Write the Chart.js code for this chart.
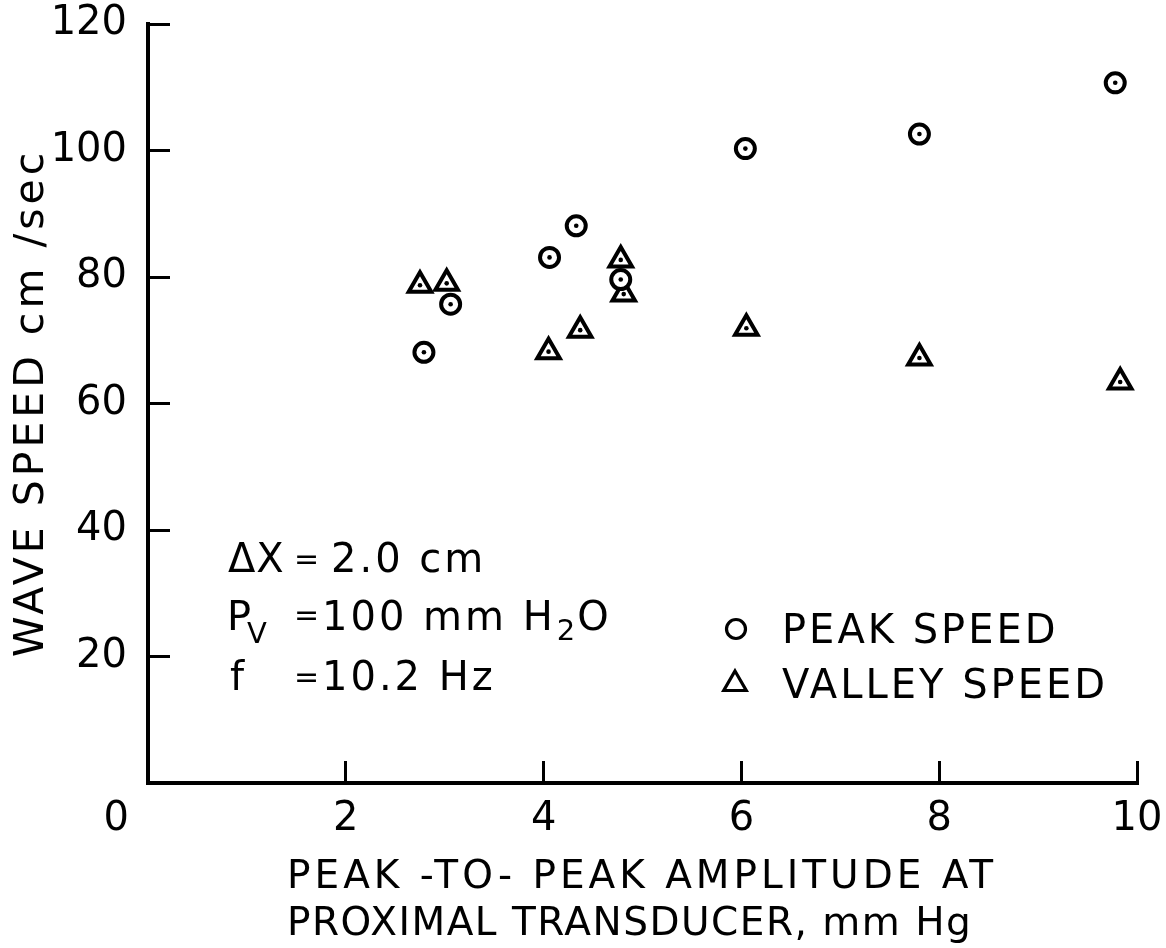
<!DOCTYPE html>
<html>
<head>
<meta charset="utf-8">
<script src="https://cdn.jsdelivr.net/npm/chart.js@4.4.0/dist/chart.umd.min.js"></script>
<style>
  html, body { margin: 0; padding: 0; background: #fff; }
  #wrap { width: 1166px; height: 948px; }
</style>
</head>
<body>
<div id="wrap"><canvas id="chart" width="1166" height="948"></canvas></div>
<script>
// Peak-to-peak amplitude at the proximal transducer (mm Hg) and measured wave speeds (cm/sec)
const peakAmplitude   = [2.79, 3.06, 4.06, 4.33, 4.78, 6.04, 7.80, 9.78];
const peakSpeed       = [68.1, 75.7, 83.1, 88.1, 79.6, 100.3, 102.6, 110.7];
const valleyAmplitude = [2.75, 3.02, 4.05, 4.37, 4.78, 4.81, 6.05, 7.80, 9.83];
const valleySpeed     = [78.7, 79.0, 68.2, 71.6, 82.7, 77.3, 71.9, 67.2, 63.4];

const seriesNames = ['PEAK SPEED', 'VALLEY SPEED'];
const xTickValues = [0, 2, 4, 6, 8, 10];
const yTickValues = [20, 40, 60, 80, 100, 120];
const xTitleLines = ['PEAK -TO- PEAK AMPLITUDE AT', 'PROXIMAL TRANSDUCER, mm Hg'];
const yTitleText  = 'WAVE SPEED cm /sec';

const FONT = '"DejaVu Sans"';
const INK = '#000';

function toPoints(xs, ys) {
  return xs.map((x, i) => ({ x: x, y: ys[i] }));
}

function drawText(ctx, str, x, y, size, spacing) {
  ctx.font = size + 'px ' + FONT;
  ctx.letterSpacing = spacing + 'px';
  ctx.fillText(str, x, y);
  return x + ctx.measureText(str).width;
}

function drawMarker(ctx, style, x, y, r, lw) {
  ctx.beginPath();
  if (style === 'triangle') {
    let a = 0;
    ctx.moveTo(x + Math.sin(a) * r, y - Math.cos(a) * r);
    a += 2 * Math.PI / 3;
    ctx.lineTo(x + Math.sin(a) * r, y - Math.cos(a) * r);
    a += 2 * Math.PI / 3;
    ctx.lineTo(x + Math.sin(a) * r, y - Math.cos(a) * r);
    ctx.closePath();
  } else {
    ctx.arc(x, y, r, 0, Math.PI * 2);
  }
  ctx.lineWidth = lw;
  ctx.lineJoin = 'miter';
  ctx.strokeStyle = INK;
  ctx.stroke();
}

// Keep the plot frame where the axes put it, without label overhang padding
function fixScaleBox(size) {
  return s => {
    if (s.isHorizontal()) s.height = size; else s.width = size;
    s.paddingTop = 0;
    s.paddingBottom = 0;
    s.paddingLeft = 0;
    s.paddingRight = 0;
  };
}

// Small dot at the centre of every plotted symbol
const centreDots = {
  id: 'centreDots',
  afterDatasetDraw(chart, args) {
    const ctx = chart.ctx;
    ctx.save();
    ctx.fillStyle = INK;
    args.meta.data.forEach(el => {
      ctx.beginPath();
      ctx.arc(el.x, el.y, 2.3, 0, Math.PI * 2);
      ctx.fill();
    });
    ctx.restore();
  }
};

// Axis titles, experiment conditions and symbol key
const lettering = {
  id: 'lettering',
  afterDraw(chart) {
    const ctx = chart.ctx;
    ctx.save();
    ctx.fillStyle = INK;
    ctx.textBaseline = 'alphabetic';
    ctx.textAlign = 'left';

    // x-axis title, two lines
    drawText(ctx, xTitleLines[0], 287, 888, 39, 4);
    drawText(ctx, xTitleLines[1], 287, 935, 39, 1.5);

    // y-axis title, reading upward
    ctx.save();
    ctx.translate(43, 657);
    ctx.rotate(-Math.PI / 2);
    drawText(ctx, yTitleText, 0, 0, 41, 4);
    ctx.restore();

    // conditions
    drawText(ctx, '\u0394X', 228, 572, 40, 1);
    drawText(ctx, '=', 294, 569, 30, 0);
    drawText(ctx, '2.0 cm', 331, 572, 40, 3);

    drawText(ctx, 'P', 227, 630, 40, 0);
    drawText(ctx, 'V', 247, 643, 29, 0);
    drawText(ctx, '=', 294, 625, 30, 0);
    let x = drawText(ctx, '100 mm H', 322, 630, 40, 3);
    x = drawText(ctx, '2', x + 1, 640, 29, 0);
    drawText(ctx, 'O', x + 2, 630, 40, 0);

    drawText(ctx, 'f', 230, 690, 40, 0);
    drawText(ctx, '=', 294, 687, 30, 0);
    drawText(ctx, '10.2 Hz', 322, 690, 40, 3);

    // symbol key
    const key = [
      { cx: 736, cy: 629, r: 9.5, base: 643 },
      { cx: 735, cy: 684, r: 13, base: 698 }
    ];
    chart.data.datasets.forEach((ds, i) => {
      const k = key[i];
      drawMarker(ctx, ds.pointStyle, k.cx, k.cy, k.r, 3.2);
      drawText(ctx, ds.label, 782, k.base, 40, 3);
    });

    ctx.restore();
  }
};

new Chart(document.getElementById('chart'), {
  type: 'scatter',
  data: {
    datasets: [
      {
        label: seriesNames[0],
        data: toPoints(peakAmplitude, peakSpeed),
        pointStyle: 'circle',
        pointRadius: 9.5,
        pointBorderWidth: 4,
        borderColor: INK,
        backgroundColor: '#fff',
        pointBackgroundColor: '#fff',
        pointBorderColor: INK
      },
      {
        label: seriesNames[1],
        data: toPoints(valleyAmplitude, valleySpeed),
        pointStyle: 'triangle',
        pointRadius: 13,
        pointBorderWidth: 4,
        borderColor: INK,
        backgroundColor: '#fff',
        pointBackgroundColor: '#fff',
        pointBorderColor: INK
      }
    ]
  },
  options: {
    responsive: false,
    animation: false,
    devicePixelRatio: 1,
    layout: { padding: { top: 24, right: 29, bottom: 0, left: 0 } },
    plugins: {
      legend: { display: false },
      tooltip: { enabled: false },
      title: { display: false }
    },
    scales: {
      x: {
        type: 'linear',
        min: 0,
        max: 10,
        afterBuildTicks: s => { s.ticks = xTickValues.map(v => ({ value: v })); },
        afterFit: fixScaleBox(165),
        ticks: {
          autoSkip: false,
          maxRotation: 0,
          minRotation: 0,
          padding: 35,
          color: INK,
          font: { family: 'DejaVu Sans', size: 40, lineHeight: 1.2 },
          callback: v => (v === 0 ? '0     ' : String(v))
        },
        grid: {
          drawOnChartArea: false,
          drawTicks: true,
          tickLength: -22,
          lineWidth: 3,
          color: INK
        },
        border: { display: true, width: 4, color: INK }
      },
      y: {
        type: 'linear',
        min: 0,
        max: 120,
        afterBuildTicks: s => { s.ticks = yTickValues.map(v => ({ value: v })); },
        afterFit: fixScaleBox(148),
        ticks: {
          padding: 43,
          color: INK,
          font: { family: 'DejaVu Sans', size: 40, lineHeight: 1.2 }
        },
        grid: {
          drawOnChartArea: false,
          drawTicks: true,
          tickLength: -22,
          lineWidth: 3,
          color: INK
        },
        border: { display: true, width: 4, color: INK }
      }
    }
  },
  plugins: [centreDots, lettering]
});
</script>
</body>
</html>
